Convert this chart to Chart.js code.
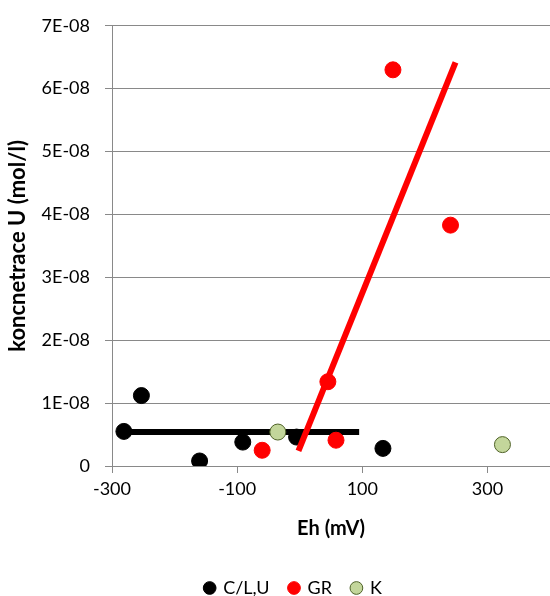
<!DOCTYPE html>
<html>
<head>
<meta charset="utf-8">
<script src="https://cdn.jsdelivr.net/npm/chart.js@4.4.0/dist/chart.umd.min.js"></script>
<style>
  html, body { margin: 0; padding: 0; background: #fff; }
  #wrap { width: 550px; height: 596px; }
</style>
</head>
<body>
<div id="wrap"><canvas id="chart" width="550" height="596"></canvas></div>
<script>
// values
const clu = [
    { x: -281, y: 5.5e-9 },
    { x: -253, y: 1.12e-8 },
    { x: -160, y: 0.8e-9 },
    { x: -91, y: 3.8e-9 },
    { x: -5, y: 4.6e-9 },
    { x: 133, y: 2.8e-9 }
];
const gr = [
    { x: -60, y: 2.5e-9 },
    { x: 45, y: 1.34e-8 },
    { x: 58, y: 4.1e-9 },
    { x: 149, y: 6.3e-8 },
    { x: 241, y: 3.83e-8 }
];
const k = [
    { x: -35, y: 5.4e-9 },
    { x: 324, y: 3.4e-9 }
];
const cluTrend = [
    { x: -284, y: 5.4e-9 },
    { x: 95, y: 5.4e-9 }
];
const grTrend = [
    { x: -2, y: 2.4e-9 },
    { x: 249, y: 6.42e-8 }
];
const xTicks = [-300, -100, 100, 300];
const yTicks = [0, 1e-8, 2e-8, 3e-8, 4e-8, 5e-8, 6e-8, 7e-8];

const colors = {
    black: '#000000',
    red: '#FF0000',
    kFill: '#C3D69B',
    kBorder: '#4F6228',
    grid: '#898989',
    text: '#000000'
};
const FONT = 'Lato, "Open Sans", sans-serif';

function yLabel(v) {
    if (v === 0) return '0';
    return Math.round(v / 1e-8) + 'E-08';
}

const ctx = document.getElementById('chart').getContext('2d');
new Chart(ctx, {
    type: 'scatter',
    data: {
        datasets: [
            {
                label: 'C/L,U',
                data: clu,
                backgroundColor: colors.black,
                borderColor: colors.black,
                borderWidth: 1,
                pointRadius: 8,
                pointHoverRadius: 8,
                order: 4
            },
            {
                label: 'trend C/L,U',
                data: cluTrend,
                showLine: true,
                borderColor: colors.black,
                borderWidth: 6,
                pointRadius: 0,
                order: 3
            },
            {
                label: 'GR',
                data: gr,
                backgroundColor: colors.red,
                borderColor: colors.red,
                borderWidth: 1,
                pointRadius: 8,
                pointHoverRadius: 8,
                order: 2
            },
            {
                label: 'trend GR',
                data: grTrend,
                showLine: true,
                borderColor: colors.red,
                borderWidth: 6,
                pointRadius: 0,
                order: 1
            },
            {
                label: 'K',
                data: k,
                backgroundColor: colors.kFill,
                borderColor: colors.kBorder,
                borderWidth: 1,
                pointRadius: 8,
                pointHoverRadius: 8,
                order: 0
            }
        ]
    },
    options: {
        responsive: false,
        animation: false,
        layout: {
            autoPadding: false,
            padding: { top: 24, right: -9, left: 28, bottom: -11 }
        },
        plugins: {
            tooltip: { enabled: false },
            legend: {
                position: 'bottom',
                labels: {
                    filter: item => !item.text.startsWith('trend'),
                    sort: (a, b) => a.datasetIndex - b.datasetIndex,
                    usePointStyle: true,
                    pointStyle: 'circle',
                    boxWidth: 9,
                    boxHeight: 9,
                    padding: 20,
                    color: colors.text,
                    font: { family: FONT, size: 18 }
                }
            }
        },
        scales: {
            x: {
                type: 'linear',
                min: -300,
                max: 400,
                afterBuildTicks: scale => {
                    scale.ticks = xTicks.map(v => ({ value: v }));
                },
                afterFit: scale => {
                    scale.height = 93;
                    scale.paddingRight = 0;
                    scale.paddingLeft = 0;
                },
                grid: {
                    drawOnChartArea: false,
                    color: colors.grid,
                    tickLength: 7
                },
                border: { color: colors.grid, width: 1 },
                ticks: {
                    color: colors.text,
                    font: { family: FONT, size: 18 },
                    padding: 5,
                    maxRotation: 0
                },
                title: {
                    display: true,
                    text: 'Eh (mV)',
                    color: colors.text,
                    font: { family: FONT, size: 20, weight: 'bold' },
                    padding: { top: 4, bottom: 18 }
                }
            },
            y: {
                type: 'linear',
                min: 0,
                max: 7e-8,
                afterBuildTicks: scale => {
                    scale.ticks = yTicks.map(v => ({ value: v }));
                },
                afterFit: scale => { scale.width = 84; },
                grid: {
                    color: colors.grid,
                    tickLength: 7
                },
                border: { color: colors.grid, width: 1 },
                ticks: {
                    color: colors.text,
                    font: { family: FONT, size: 18 },
                    padding: 15,
                    callback: v => yLabel(v)
                },
                title: {
                    display: true,
                    text: 'koncnetrace U (mol/l)',
                    color: colors.text,
                    font: { family: FONT, size: 22, weight: 'bold' },
                    padding: { top: -23, bottom: 4 }
                }
            }
        }
    }
});
</script>
</body>
</html>
